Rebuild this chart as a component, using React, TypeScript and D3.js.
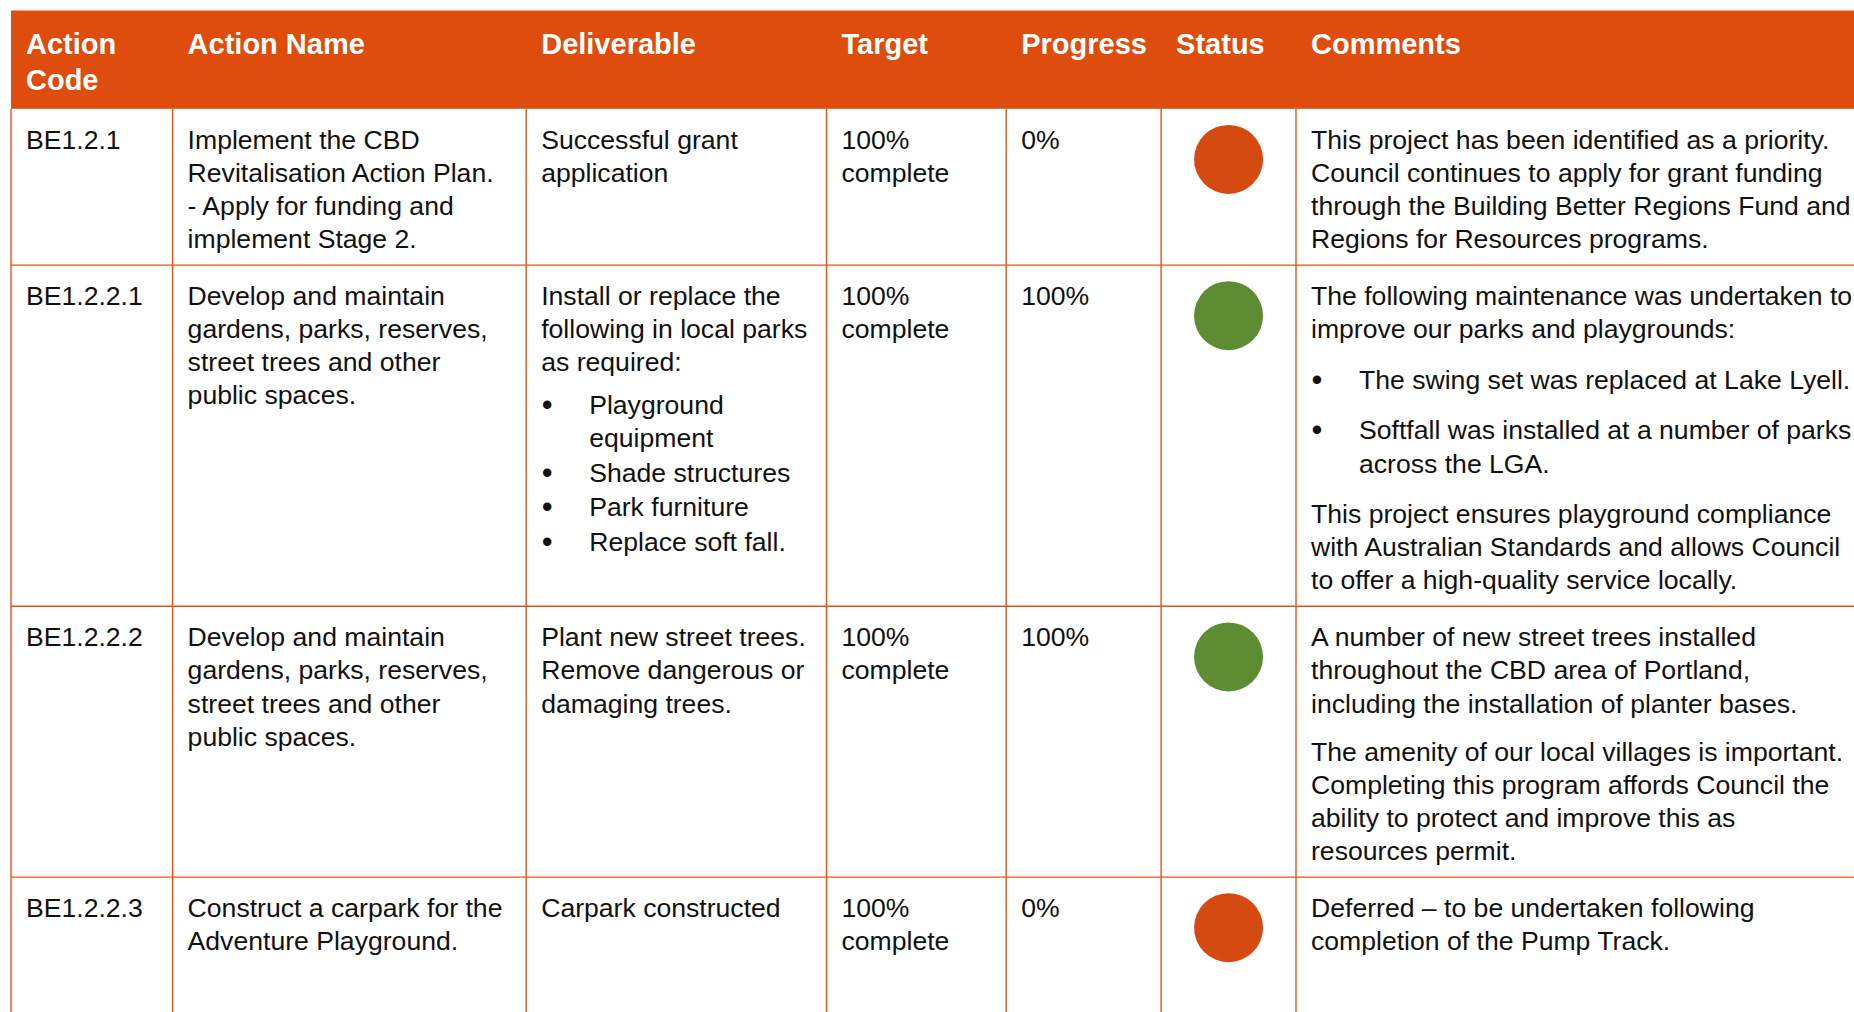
import React from 'react';
import * as d3 from 'd3';

// ---- table content ----
const headers = [['Action', 'Code'], ['Action Name'], ['Deliverable'], ['Target'], ['Progress'], ['Status'], ['Comments']];

const actionCodes = ['BE1.2.1', 'BE1.2.2.1', 'BE1.2.2.2', 'BE1.2.2.3'];

const actionNames = [
  ['Implement the CBD', 'Revitalisation Action Plan.', '- Apply for funding and', 'implement Stage 2.'],
  ['Develop and maintain', 'gardens, parks, reserves,', 'street trees and other', 'public spaces.'],
  ['Develop and maintain', 'gardens, parks, reserves,', 'street trees and other', 'public spaces.'],
  ['Construct a carpark for the', 'Adventure Playground.'],
];

const deliverables = [
  [{ type: 'p', lines: ['Successful grant', 'application'] }],
  [
    { type: 'p', lines: ['Install or replace the', 'following in local parks', 'as required:'] },
    { type: 'li', lines: ['Playground', 'equipment'] },
    { type: 'li', lines: ['Shade structures'] },
    { type: 'li', lines: ['Park furniture'] },
    { type: 'li', lines: ['Replace soft fall.'] },
  ],
  [{ type: 'p', lines: ['Plant new street trees.', 'Remove dangerous or', 'damaging trees.'] }],
  [{ type: 'p', lines: ['Carpark constructed'] }],
];

const targets = [['100%', 'complete'], ['100%', 'complete'], ['100%', 'complete'], ['100%', 'complete']];

const progress = ['0%', '100%', '100%', '0%'];

const statuses = ['not started', 'complete', 'complete', 'not started'];

const comments = [
  [
    {
      type: 'p',
      lines: [
        'This project has been identified as a priority.',
        'Council continues to apply for grant funding',
        'through the Building Better Regions Fund and',
        'Regions for Resources programs.',
      ],
    },
  ],
  [
    { type: 'p', lines: ['The following maintenance was undertaken to', 'improve our parks and playgrounds:'] },
    { type: 'li', lines: ['The swing set was replaced at Lake Lyell.'] },
    { type: 'li', lines: ['Softfall was installed at a number of parks', 'across the LGA.'] },
    {
      type: 'p',
      lines: [
        'This project ensures playground compliance',
        'with Australian Standards and allows Council',
        'to offer a high-quality service locally.',
      ],
    },
  ],
  [
    {
      type: 'p',
      lines: [
        'A number of new street trees installed',
        'throughout the CBD area of Portland,',
        'including the installation of planter bases.',
      ],
    },
    {
      type: 'p',
      lines: [
        'The amenity of our local villages is important.',
        'Completing this program affords Council the',
        'ability to protect and improve this as',
        'resources permit.',
      ],
    },
  ],
  [{ type: 'p', lines: ['Deferred \u2013 to be undertaken following', 'completion of the Pump Track.'] }],
];

// ---- layout ----
const W = 1854;
const H = 1012;
const colWidths = [161.6, 353.6, 300.3, 179.7, 154.9, 134.9, 600];
const tableLeft = 11;
const headerTop = 10.5;
const headerBottom = 108.8;
const padX = 15;
const lineH = 33.1;
const firstBaseline = 40;
const bottomPad = 17;
const bulletX = 21;
const bulletTextX = 63;

const ORANGE = '#DE4C0E';
const BORDER = '#E0541A';
const statusColor = d3
  .scaleOrdinal<string, string>()
  .domain(['not started', 'complete'])
  .range(['#D54A10', '#5D8C32']);

const FONT = '"Liberation Sans", Arial, Helvetica, sans-serif';

type Block = { type: string; lines: string[] };

// gaps between blocks (Word paragraph spacing)
function blockGap(prev: Block, cur: Block, wide: boolean) {
  if (wide) return prev.type === 'li' || cur.type === 'li' ? 17.5 : 15.2;
  if (prev.type === 'p' && cur.type === 'li') return 9.3;
  if (prev.type === 'li' && cur.type === 'li') return 1.7;
  return 0;
}

function layoutBlocks(blocks: Block[], wide: boolean) {
  const out: { text: string; y: number; bullet: boolean; indent: boolean }[] = [];
  let y = 0;
  blocks.forEach((b, bi) => {
    if (bi > 0) y += lineH + blockGap(blocks[bi - 1], b, wide);
    b.lines.forEach((t, li) => {
      if (li > 0) y += lineH;
      out.push({ text: t, y, bullet: b.type === 'li' && li === 0, indent: b.type === 'li' });
    });
  });
  return { items: out, last: y };
}

export default function App() {
  const edges = [tableLeft, ...d3.cumsum(colWidths).map((d) => d + tableLeft)];
  const x = d3
    .scaleOrdinal<number, number>()
    .domain(d3.range(colWidths.length))
    .range(edges.slice(0, -1));

  // per-row cells
  const rows = actionCodes.map((code, i) => {
    const cells = [
      layoutBlocks([{ type: 'p', lines: [code] }], false),
      layoutBlocks([{ type: 'p', lines: actionNames[i] }], false),
      layoutBlocks(deliverables[i] as Block[], false),
      layoutBlocks([{ type: 'p', lines: targets[i] }], false),
      layoutBlocks([{ type: 'p', lines: [progress[i]] }], false),
      null,
      layoutBlocks(comments[i] as Block[], true),
    ];
    const contentH = firstBaseline + (d3.max(cells, (c) => (c ? c.last : 0)) as number) + bottomPad;
    return { cells, contentH, status: statuses[i] };
  });

  const rowTops = [headerBottom];
  rows.forEach((r) => rowTops.push(rowTops[rowTops.length - 1] + r.contentH));

  const y = d3
    .scaleOrdinal<number, number>()
    .domain(d3.range(rows.length))
    .range(rowTops.slice(0, -1));

  const right = W + 10;

  return (
    <svg
      width={W}
      height={H}
      style={{ position: 'absolute', left: 0, top: 0, background: '#fff' }}
      fontFamily={FONT}
    >
      <rect x={0} y={0} width={W} height={H} fill="#fff" />
      {/* header band */}
      <rect x={tableLeft} y={headerTop} width={right - tableLeft} height={headerBottom - headerTop} fill={ORANGE} />
      <g fill="#fff" fontWeight="bold" fontSize={29}>
        {headers.map((lines, c) => (
          <text key={c} x={x(c) + padX} y={53.5}>
            {lines.map((t, k) => (
              <tspan key={k} x={x(c) + padX} dy={k === 0 ? 0 : 36.7}>
                {t}
              </tspan>
            ))}
          </text>
        ))}
      </g>

      {/* grid: the last row runs on past the page, so it has no bottom rule */}
      <g stroke={BORDER} strokeWidth={1.4} fill="none">
        {rowTops.slice(1, -1).map((ry, i) => (
          <line key={'h' + i} x1={tableLeft} x2={right} y1={ry} y2={ry} />
        ))}
        {edges.slice(0, -1).map((ex, i) => (
          <line key={'v' + i} x1={ex} x2={ex} y1={headerBottom} y2={H + 10} />
        ))}
      </g>

      {/* body */}
      <g fontSize={26.6} fill="#111">
        {rows.map((r, ri) =>
          r.cells.map((cell, c) =>
            cell
              ? cell.items.map((it, k) => (
                  <g key={`${ri}-${c}-${k}`}>
                    {it.bullet && (
                      <text
                        x={x(c) + bulletX}
                        y={y(ri) + firstBaseline + it.y + 1}
                        textAnchor="middle"
                        fontSize={31}
                      >
                        {'\u2022'}
                      </text>
                    )}
                    <text
                      x={x(c) + (it.indent ? bulletTextX : padX)}
                      y={y(ri) + firstBaseline + it.y}
                    >
                      {it.text}
                    </text>
                  </g>
                ))
              : null
          )
        )}
      </g>

      {/* status markers */}
      <g>
        {rows.map((r, ri) => (
          <circle
            key={ri}
            cx={x(5) + colWidths[5] / 2}
            cy={y(ri) + 50.6}
            r={34.5}
            fill={statusColor(r.status)}
          />
        ))}
      </g>
    </svg>
  );
}
